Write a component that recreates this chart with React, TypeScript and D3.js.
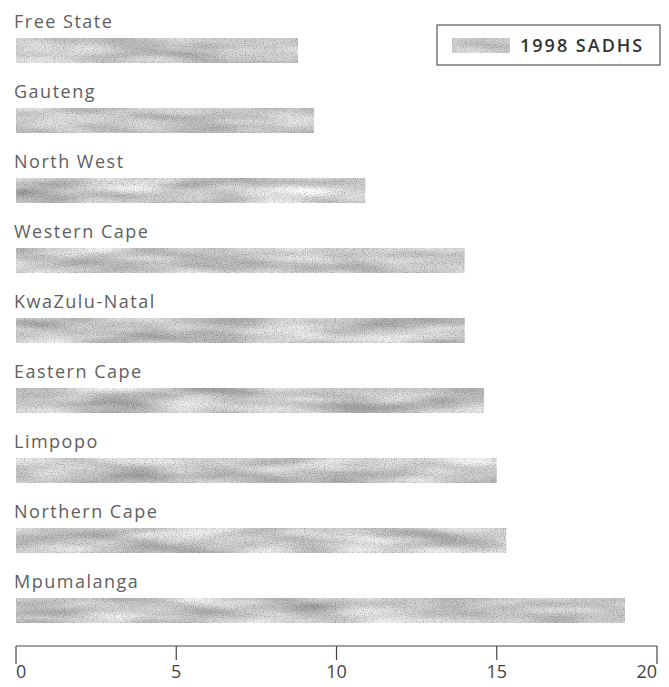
import React from "react";
import * as d3 from "d3";

const categories = [
  "Free State",
  "Gauteng",
  "North West",
  "Western Cape",
  "KwaZulu-Natal",
  "Eastern Cape",
  "Limpopo",
  "Northern Cape",
  "Mpumalanga",
];
const values = [8.8, 9.3, 10.9, 14.0, 14.0, 14.6, 15.0, 15.3, 19.0];
const ticks = [0, 5, 10, 15, 20];
const seriesName = "1998 SADHS";

const W = 669;
const H = 687;
const FONT = "'Open Sans', 'Noto Sans', sans-serif";

export default function App() {
  const x = d3.scaleLinear().domain([0, 20]).range([16, 657]);
  const y = d3.scaleBand<string>().domain(categories).range([10, 640]).padding(0);
  const axisY = 646;

  return (
    <svg
      width={W}
      height={H}
      style={{ position: "absolute", left: 0, top: 0, background: "#fff" }}
    >
      <defs>
        <filter id="tex" x="0" y="0" width="1" height="1" colorInterpolationFilters="sRGB">
          <feTurbulence type="fractalNoise" baseFrequency="0.012 0.07" numOctaves="2" seed="7" result="n1" />
          <feColorMatrix
            in="n1"
            type="matrix"
            values="0.5 0 0 0 0.56  0.5 0 0 0 0.56  0.5 0 0 0 0.56  0 0 0 0 1"
            result="g1"
          />
          <feTurbulence type="fractalNoise" baseFrequency="0.9" numOctaves="1" seed="2" result="n2" />
          <feColorMatrix
            in="n2"
            type="matrix"
            values="0.8 0 0 0 0.58  0.8 0 0 0 0.58  0.8 0 0 0 0.58  0 0 0 0 1"
            result="g2"
          />
          <feBlend in="g1" in2="g2" mode="multiply" result="b" />
          <feComposite in="b" in2="SourceGraphic" operator="in" />
        </filter>
      </defs>

      {categories.map((c, i) => {
        const top = y(c)!;
        return (
          <g key={c}>
            <text
              x={14}
              y={top + 18}
              fontFamily={FONT}
              fontSize={18}
              letterSpacing={1.5}
              fill="#606060"
            >
              {c}
            </text>
            <rect
              x={x(0)}
              y={top + 28}
              width={x(values[i]) - x(0)}
              height={25}
              fill="#c4c4c4"
              filter="url(#tex)"
            />
          </g>
        );
      })}

      {/* Legend */}
      <rect x={437} y={25} width={223} height={40} fill="none" stroke="#555" strokeWidth={1.2} />
      <rect x={452} y={38} width={58} height={15} fill="#c4c4c4" filter="url(#tex)" />
      <text
        x={520}
        y={52}
        fontFamily={FONT}
        fontSize={18}
        fontWeight={600}
        letterSpacing={2}
        fill="#333"
      >
        {seriesName}
      </text>

      {/* Axis */}
      <line x1={x(0)} x2={x(20)} y1={axisY} y2={axisY} stroke="#444" strokeWidth={1.2} />
      {ticks.map((t) => (
        <g key={t}>
          <line
            x1={x(t)}
            x2={x(t)}
            y1={axisY}
            y2={t === 0 || t === 20 ? axisY + 18 : axisY + 14}
            stroke="#444"
            strokeWidth={1.2}
          />
          <text
            x={x(t)}
            y={678}
            textAnchor={t === 0 ? "start" : t === 20 ? "end" : "middle"}
            fontFamily={FONT}
            fontSize={18}
            fill="#444"
          >
            {t}
          </text>
        </g>
      ))}
    </svg>
  );
}
